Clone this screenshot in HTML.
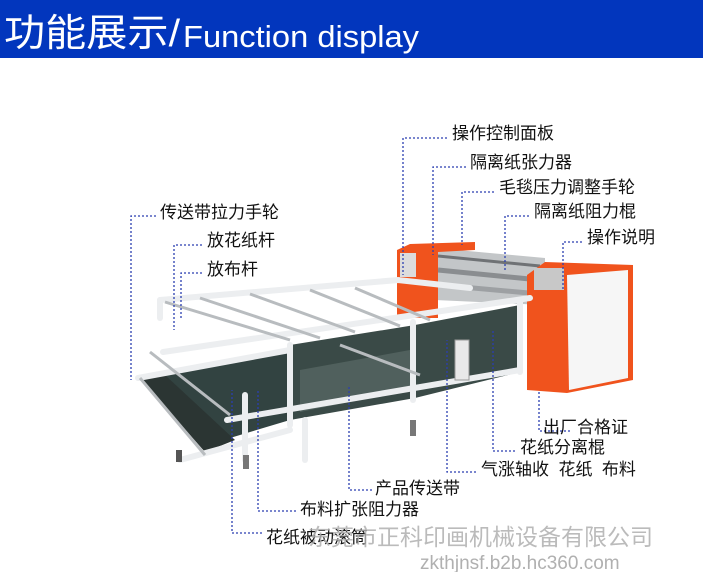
<!DOCTYPE html>
<html><head><meta charset="utf-8"><style>
html,body{margin:0;padding:0;background:#fff;}
svg{display:block;}
.l{font-family:"Liberation Sans","Noto Sans CJK SC",sans-serif;font-size:17px;fill:#111;}
.d{stroke:#2b3fb0;stroke-width:1.3;stroke-dasharray:2 2;fill:none;}
</style></head><body>
<svg width="703" height="572" viewBox="0 0 703 572" xmlns="http://www.w3.org/2000/svg">
<rect x="0" y="0" width="703" height="58" fill="#0236bd"/>
<text x="4" y="46" fill="#fff" font-family="'Liberation Sans','Noto Sans CJK SC',sans-serif" font-size="38" textLength="176" lengthAdjust="spacingAndGlyphs">功能展示/</text>
<text x="183" y="47" fill="#fff" font-family="'Liberation Sans',sans-serif" font-size="31" textLength="236" lengthAdjust="spacingAndGlyphs">Function display</text>

<!-- rollers area -->
<polygon points="435,248 545,258 545,305 435,300" fill="#c3c6c8"/>
<line x1="438" y1="256" x2="540" y2="266" stroke="#6f7275" stroke-width="3"/>
<line x1="438" y1="270" x2="540" y2="280" stroke="#8a8d90" stroke-width="5"/>
<line x1="440" y1="285" x2="540" y2="294" stroke="#9da0a3" stroke-width="5"/>
<!-- left orange -->
<polygon points="397,250 410,244 475,242 475,250 438,252 438,318 397,318" fill="#f0531d"/>
<rect x="400" y="253" width="16" height="24" fill="#dcdcdc"/>
<!-- right cabinet -->
<polygon points="527,275 545,262 633,265 633,380 567,393 527,390" fill="#f0531d"/>
<polygon points="567,275 628,270 628,378 569,390" fill="#f6f6f6"/>
<rect x="534" y="268" width="30" height="22" fill="#c8c8c8"/>
<!-- dark glass areas -->
<polygon points="290,345 415,325 520,305 520,372 415,398 290,420" fill="#3a4a47"/>
<polygon points="163,372 290,348 290,420 230,438 200,445" fill="#324341"/>
<polygon points="140,378 165,375 235,440 205,452" fill="#2b3533"/>
<polygon points="300,370 410,350 410,390 300,412" fill="#5f706c" opacity="0.6"/>
<!-- white frame -->
<g stroke="#eceef0" stroke-width="6" fill="none" stroke-linecap="round">
<polyline points="160,300 398,280 470,288"/>
<line x1="160" y1="300" x2="160" y2="318"/>
<line x1="163" y1="352" x2="530" y2="298"/>
<line x1="227" y1="420" x2="520" y2="370"/>
<line x1="180" y1="460" x2="290" y2="430"/>
<line x1="290" y1="345" x2="290" y2="425"/>
<line x1="413" y1="322" x2="413" y2="400"/>
<line x1="520" y1="300" x2="520" y2="372"/>
<line x1="245" y1="395" x2="245" y2="460"/>
<line x1="305" y1="420" x2="305" y2="460"/>
<line x1="138" y1="378" x2="290" y2="350"/>
</g>
<g stroke="#b8bcbf" stroke-width="3" fill="none">
<line x1="165" y1="302" x2="290" y2="340"/>
<line x1="200" y1="298" x2="320" y2="338"/>
<line x1="250" y1="294" x2="355" y2="332"/>
<line x1="310" y1="290" x2="400" y2="326"/>
<line x1="355" y1="288" x2="430" y2="320"/>
<line x1="150" y1="352" x2="230" y2="415"/>
<line x1="140" y1="378" x2="205" y2="455"/>
<line x1="340" y1="345" x2="420" y2="375"/>
</g>
<rect x="455" y="340" width="14" height="40" fill="#e9e9e9" stroke="#999"/>
<rect x="410" y="420" width="6" height="16" fill="#777"/>
<rect x="243" y="455" width="6" height="14" fill="#777"/>
<rect x="176" y="450" width="6" height="12" fill="#555"/>

<!-- leader lines -->
<polyline class="d" points="447,138 403,138 403,275"/>
<polyline class="d" points="466,167 433,167 433,255"/>
<polyline class="d" points="494,192 462,192 462,245"/>
<polyline class="d" points="529,216 505,216 505,272"/>
<polyline class="d" points="582,242 563,242 563,290"/>
<polyline class="d" points="156,216 131,216 131,380"/>
<polyline class="d" points="202,245 174,245 174,330"/>
<polyline class="d" points="202,273 181,273 181,320"/>
<polyline class="d" points="570,431 539,431 539,392"/>
<polyline class="d" points="515,451 493,451 493,330"/>
<polyline class="d" points="476,472 447,472 447,340"/>
<polyline class="d" points="372,490 349,490 349,385"/>
<polyline class="d" points="296,511 258,511 258,390"/>
<polyline class="d" points="262,533 232,533 232,390"/>

<!-- labels -->
<text class="l" x="452" y="139">操作控制面板</text>
<text class="l" x="470" y="168">隔离纸张力器</text>
<text class="l" x="499" y="193">毛毯压力调整手轮</text>
<text class="l" x="534" y="217">隔离纸阻力棍</text>
<text class="l" x="587" y="243">操作说明</text>
<text class="l" x="160" y="218">传送带拉力手轮</text>
<text class="l" x="207" y="246">放花纸杆</text>
<text class="l" x="207" y="275">放布杆</text>
<text class="l" x="543" y="433">出厂合格证</text>
<text class="l" x="520" y="453">花纸分离棍</text>
<text class="l" x="481" y="475" xml:space="preserve">气涨轴收  花纸  布料</text>
<text class="l" x="375" y="494">产品传送带</text>
<text class="l" x="300" y="515">布料扩张阻力器</text>
<text class="l" x="266" y="543">花纸被动滚筒</text>
<text x="308" y="545" fill="#b0b0b0" opacity="0.85" font-family="'Liberation Sans','Noto Sans CJK SC',sans-serif" font-size="23">东莞市正科印画机械设备有限公司</text>
<text x="420" y="569" fill="#b0b0b0" font-family="'Liberation Sans',sans-serif" font-size="19">zkthjnsf.b2b.hc360.com</text>
</svg>
</body></html>
